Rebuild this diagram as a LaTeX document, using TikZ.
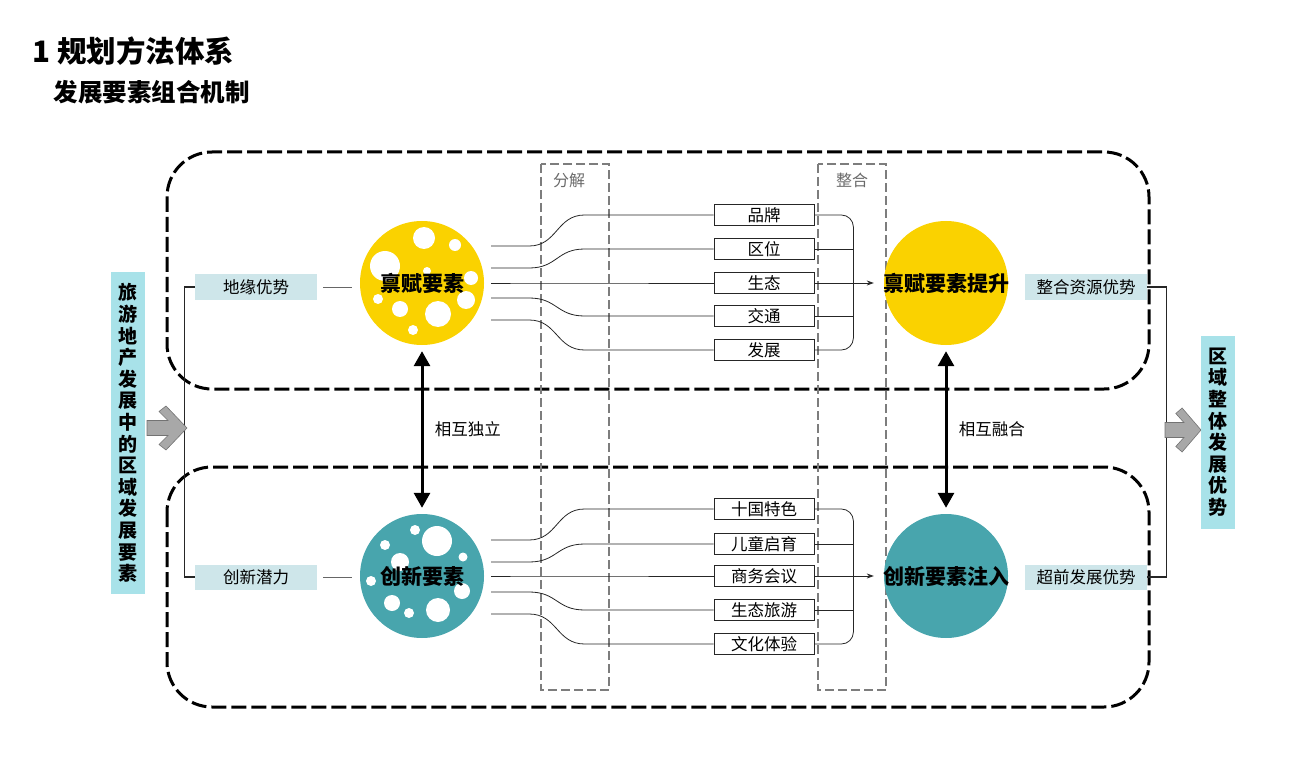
\documentclass[tikz,border=0pt]{standalone}
\usepackage{fontspec}
\setmainfont{Noto Sans CJK SC}
\usetikzlibrary{arrows.meta, calc, positioning}

\definecolor{fuyellow}{RGB}{250,210,0}
\definecolor{xinteal}{RGB}{72,165,173}
\definecolor{sidecyan}{RGB}{168,226,233}
\definecolor{tagblue}{RGB}{206,230,234}
\definecolor{arrowgray}{RGB}{168,168,168}
\definecolor{framegray}{RGB}{125,125,125}

\tikzset{
  bigframe/.style={line width=3pt, dash pattern=on 15pt off 5pt, rounded corners=45pt},
  stageframe/.style={framegray, line width=1.3pt, dash pattern=on 9pt off 4pt},
  stagetext/.style={framegray!85!black, font=\fontsize{16}{16}\selectfont},
  itembox/.style={draw=black!85, line width=0.8pt, minimum width=100pt, minimum height=21pt, inner sep=0pt, font=\fontsize{16.5}{16.5}\selectfont},
  tagbox/.style={fill=tagblue, minimum width=122pt, minimum height=25pt, inner sep=0pt, font=\fontsize{16.5}{16.5}\selectfont},
  sidebox/.style={fill=sidecyan, minimum width=34pt, inner sep=0pt, align=center, font=\fontsize{19}{21.6}\selectfont\bfseries},
  ball/.style={circle, minimum size=124pt, inner sep=0pt},
  balltext/.style={font=\fontsize{21}{21}\selectfont\bfseries},
  flow/.style={black!85, line width=0.8pt},
  bigarrow/.style={line width=3pt, {Triangle[length=15pt,width=16pt]}-{Triangle[length=15pt,width=16pt]}, shorten <=6pt, shorten >=6pt},
  blockarrow/.style={fill=arrowgray, draw=black!55, line width=0.6pt},
}

\begin{document}
\begin{tikzpicture}[x=1pt,y=-1pt]
\useasboundingbox (0,0) rectangle (1311,767);

% titles
\node[anchor=west, font=\fontsize{29.5}{29.5}\selectfont\bfseries] (ttl) at (29,51) {1 规划方法体系};
\node[anchor=west, font=\fontsize{24.5}{24.5}\selectfont\bfseries] (sub) at (50,92) {发展要素组合机制};

% dashed frames
\draw[bigframe] (167,152) rectangle (1149,389);
\draw[bigframe] (167,467) rectangle (1149,707);

% stages
\draw[stageframe] (541,164) rectangle (609,690);
\draw[stageframe] (818,164) rectangle (886,690);
\node[stagetext] (fj) at (569,180) {分解};
\node[stagetext] (zh) at (852,180) {整合};

% circles
\node[ball, fill=fuyellow] (bf) at (422,283) {};
\node[ball, fill=xinteal] (cx) at (422,576) {};
\node[ball, fill=fuyellow] (bfup) at (946,283) {};
\node[ball, fill=xinteal] (cxin) at (946,576) {};

% bubbles
\foreach \bx/\by/\br in {2/-45/11, 33/-38/6, -37/-17/15, 5/-12/4, 49/-5/7, -44/16/5, -22/26/8, 16/31/13, 44/17/9, -9/47/5}
  \fill[white] ($(bf)+(\bx,\by)$) circle (\br pt);
\foreach \bx/\by/\br in {15/-35/15, -7/-46/5, -37/-31/5, -22/-14/9, 41/-19/4.5, -51/5/5, 40/15/8, -30/27/8, -13/37/5, 16/34/12}
  \fill[white] ($(cx)+(\bx,\by)$) circle (\br pt);

\node[balltext] (bft) at (bf) {禀赋要素};
\node[balltext] (cxt) at (cx) {创新要素};
\node[balltext] (bfupt) at (bfup) {禀赋要素提升};
\node[balltext] (cxint) at (cxin) {创新要素注入};

% decomposition: top group
\foreach \nd/\txt/\yy/\dy in {pa/品牌/215/-37, pb/区位/249/-15, pc/生态/283/0, pd/交通/316/15, pe/发展/350/37}{
  \node[itembox] (\nd) at (764,\yy) {\txt};
  \coordinate (o\nd) at ($(bf.east)+(7,\dy)$);
  \draw[flow] (o\nd) -- ++(38,0) .. controls +(28,0) and +(-28,0) .. ($(\nd.west)+(-129,0)$) -- (\nd.west);
}
% decomposition: bottom group
\foreach \nd/\txt/\yy/\dy in {qa/十国特色/509/-36, qb/儿童启育/544/-14, qc/商务会议/576/0, qd/生态旅游/610/16, qe/文化体验/644/38}{
  \node[itembox] (\nd) at (764,\yy) {\txt};
  \coordinate (o\nd) at ($(cx.east)+(7,\dy)$);
  \draw[flow] (o\nd) -- ++(38,0) .. controls +(28,0) and +(-28,0) .. ($(\nd.west)+(-129,0)$) -- (\nd.west);
}

% integration
\draw[flow, rounded corners=12pt] (pa.east) -| ($(pc.east)+(39,0)$) |- (pe.east);
\draw[flow] (pb.east) -- ++(39,0);
\draw[flow] (pd.east) -- ++(39,0);
\draw[flow, -{Stealth[length=7pt,width=5pt]}, shorten >=10pt] (pc.east) -- (bfup);
\draw[flow, rounded corners=12pt] (qa.east) -| ($(qc.east)+(39,0)$) |- (qe.east);
\draw[flow] (qb.east) -- ++(39,0);
\draw[flow] (qd.east) -- ++(39,0);
\draw[flow, -{Stealth[length=7pt,width=5pt]}, shorten >=10pt] (qc.east) -- (cxin);

% links between the circles
\draw[bigarrow] (bf) -- (cx) node[midway, right=8pt, font=\fontsize{16.5}{16.5}\selectfont] (dl) {相互独立};
\draw[bigarrow] (bfup) -- (cxin) node[midway, right=8pt, font=\fontsize{16.5}{16.5}\selectfont] (rh) {相互融合};

% tags
\node[tagbox] (dy) at (256,287) {地缘优势};
\node[tagbox] (cq) at (256,577) {创新潜力};
\node[tagbox] (zy) at (1086,287) {整合资源优势};
\node[tagbox] (cf) at (1086,577) {超前发展优势};
\draw[black!60, line width=0.6pt, shorten <=6pt, shorten >=8pt] (dy.east) -- (dy.east -| bf.west);
\draw[black!60, line width=0.6pt, shorten <=6pt, shorten >=8pt] (cq.east) -- (cq.east -| cx.west);

% brackets
\draw[flow, line width=1.2pt] (dy.west) -- ++(-10,0) |- (cq.west);
\draw[flow, line width=1.2pt] (zy.east) -- ++(19,0) |- (cf.east);

% gray block arrows
\foreach \ax/\ay/\as in {147/428/1, 1165/430/0.9}
  \draw[blockarrow, shift={(\ax,\ay)}, xscale=\as] (0,-7.5) -- (21,-7.5) -- (12,-16.5) -- (19,-22) -- (40,0) -- (19,22) -- (12,16.5) -- (21,7.5) -- (0,7.5) -- cycle;

% side labels
\node[sidebox, minimum height=322pt] (lside) at (128,433) {旅\\游\\地\\产\\发\\展\\中\\的\\区\\域\\发\\展\\要\\素};
\node[sidebox, minimum height=193pt] (rside) at (1218,432) {区\\域\\整\\体\\发\\展\\优\\势};

\end{tikzpicture}
\end{document}
